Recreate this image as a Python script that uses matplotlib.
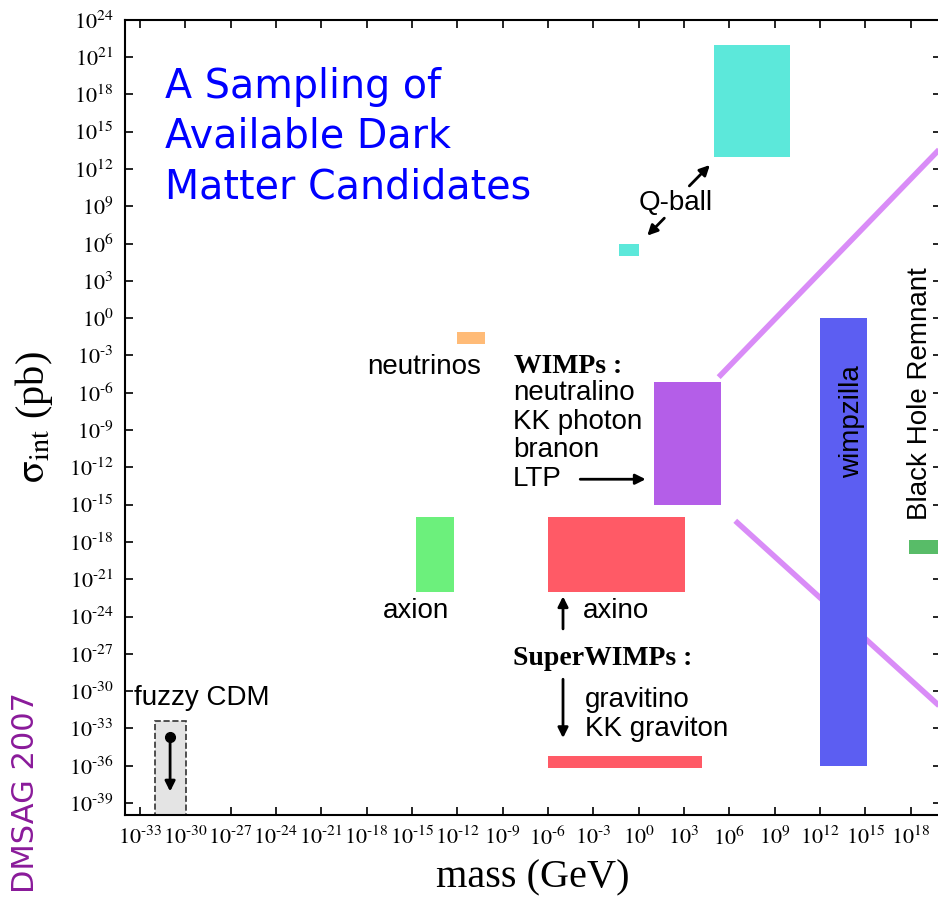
import numpy as np
import matplotlib
matplotlib.use('Agg')
import matplotlib.pyplot as plt
from matplotlib.patches import Rectangle

plt.rcParams['font.family'] = ['Liberation Sans', 'DejaVu Sans']
plt.rcParams['mathtext.fontset'] = 'stix'

# %%
# 候选粒子的区域 (mass GeV, sigma pb)
names = ['Q-ball big', 'Q-ball small', 'neutrinos', 'axion', 'WIMPs',
         'axino', 'gravitino', 'wimpzilla', 'Black Hole Remnant']
mass_lo = [1e5, 5e-2, 1e-12, 2e-15, 1e1, 1e-6, 1e-6, 1e12, 8e17]
mass_hi = [1.1e10, 1e0, 7e-11, 6e-13, 3e5, 1.2e3, 1.5e4, 1.3e15, 1e21]
sigma_lo = [1e13, 1e5, 8e-3, 1e-22, 1e-15, 1e-22, 6e-37, 1e-36, 1e-19]
sigma_hi = [1e22, 1e6, 8e-2, 1e-16, 7e-6, 1e-16, 6e-36, 1e0, 1.3e-18]
colors = ['#5ce8da', '#5ce8da', '#ffbb77', '#6cf07c', '#b45ee8',
          '#ff5a66', '#ff5a66', '#5c5ef2', '#58bc68']

# fuzzy CDM
fuzzy_mass = [1e-32, 1.2e-30]
fuzzy_sigma = [1e-40, 4e-33]

# 紫色的放大线
line1_mass = [2e5, 1e20]
line1_sigma = [1.8e-5, 5e13]
line2_mass = [2.5e6, 1e20]
line2_sigma = [5e-17, 5e-32]

xtick_exp = list(range(-33, 19, 3))
ytick_exp = list(range(-39, 25, 3))


def tick_label(e):
    # 原图上标里的负号是短横线
    if e < 0:
        return r'$10^{\text{-}%d}$' % (-e)
    return r'$10^{%d}$' % e


# %%
fig = plt.figure(figsize=(9.38, 9.0), dpi=100)
ax = fig.add_axes([0.133, 0.094, 0.870, 0.884])
ax.set_xscale('log')
ax.set_yscale('log')
ax.set_xlim(1e-34, 1e20)
ax.set_ylim(1e-40, 1e24)

for i in range(len(names)):
    ax.add_patch(Rectangle((mass_lo[i], sigma_lo[i]), mass_hi[i] - mass_lo[i],
                           sigma_hi[i] - sigma_lo[i], facecolor=colors[i],
                           edgecolor='none', zorder=2))

ax.add_patch(Rectangle((fuzzy_mass[0], fuzzy_sigma[0]), fuzzy_mass[1] - fuzzy_mass[0],
                       fuzzy_sigma[1] - fuzzy_sigma[0], facecolor='#e4e4e4',
                       edgecolor='#333333', linestyle='--', linewidth=1.2, zorder=2))

ax.plot(line1_mass, line1_sigma, color='#d98cf7', lw=4, solid_capstyle='butt', zorder=1)
ax.plot(line2_mass, line2_sigma, color='#d98cf7', lw=4, solid_capstyle='butt', zorder=1)

# ticks
ax.set_xticks([10.0 ** e for e in xtick_exp])
ax.set_xticklabels([tick_label(e) for e in xtick_exp])
ax.set_yticks([10.0 ** e for e in ytick_exp])
ax.set_yticklabels([tick_label(e) for e in ytick_exp])
ax.minorticks_off()
ax.tick_params(direction='in', top=True, right=True, length=6, width=1.2,
               labelsize=16, pad=8)
for s in ax.spines.values():
    s.set_linewidth(1.5)

ax.set_xlabel('mass (GeV)', family='Liberation Serif', fontsize=29)
ax.xaxis.set_label_coords(0.5, -0.055)
ax.set_ylabel(r'$\mathrm{\sigma_{int}}$ (pb)', family='Liberation Serif', fontsize=29)
ax.yaxis.set_label_coords(-0.085, 0.50)

# 文字标注
lab = dict(fontsize=20, color='black', zorder=5)
ax.text(6e-15, 1.2e-4, 'neutrinos', ha='center', va='center', **lab)
ax.text(2e-15, 3e-24, 'axion', ha='center', va='center', **lab)
ax.text(4e-34, 3e-31, 'fuzzy CDM', ha='left', va='center', **lab)
ax.text(3e2, 2e9, 'Q-ball', ha='center', va='center', **lab)
ax.text(6e-9, 1.3e-4, 'WIMPs :', ha='left', va='center', family='Liberation Serif',
        fontweight='bold', fontsize=20)
ax.text(5e-9, 1e-5, 'neutralino\nKK photon\nbranon\nLTP', ha='left', va='top',
        linespacing=1.12, **lab)
ax.text(2.2e-4, 2.8e-24, 'axino', ha='left', va='center', **lab)
ax.text(5e-9, 4e-28, 'SuperWIMPs :', ha='left', va='center', family='Liberation Serif',
        fontweight='bold', fontsize=20)
ax.text(3e-4, 2e-30, 'gravitino\nKK graviton', ha='left', va='top', linespacing=1.12, **lab)
ax.text(1.4e14, 5e-9, 'wimpzilla', ha='center', va='center', rotation=90, **lab)
ax.text(4.5e18, 8e-7, 'Black Hole Remnant', ha='center', va='center', rotation=90, **lab)

arr = dict(arrowstyle='-|>,head_length=0.6,head_width=0.3', color='black', lw=2)
ax.annotate('', xy=(4.5e0, 1.1e-13), xytext=(9e-5, 1.1e-13), arrowprops=arr)
ax.annotate('', xy=(1e-5, 7e-23), xytext=(1e-5, 6e-26), arrowprops=arr)
ax.annotate('', xy=(1e-5, 1e-34), xytext=(1e-5, 1.5e-29), arrowprops=arr)
ax.annotate('', xy=(7e4, 3e12), xytext=(1.7e3, 3e10), arrowprops=arr)
ax.annotate('', xy=(2.8e0, 3e6), xytext=(6.8e1, 1.6e8), arrowprops=arr)
# fuzzy CDM 的箭头
ax.plot([1e-31], [2e-34], 'o', color='black', ms=7, zorder=6)
ax.annotate('', xy=(1e-31, 5e-39), xytext=(1e-31, 2e-34), arrowprops=arr, zorder=6)

fig.text(0.176, 0.926, 'A Sampling of\nAvailable Dark\nMatter Candidates', color='#0000ff',
         fontsize=28.5, family='DejaVu Sans', ha='left', va='top', linespacing=1.33)
fig.text(0.027, 0.119, 'DMSAG 2007', color='#8a1a9a', fontsize=22, family='DejaVu Sans',
         rotation=90, ha='center', va='center')

plt.savefig('out.png', dpi=100)
